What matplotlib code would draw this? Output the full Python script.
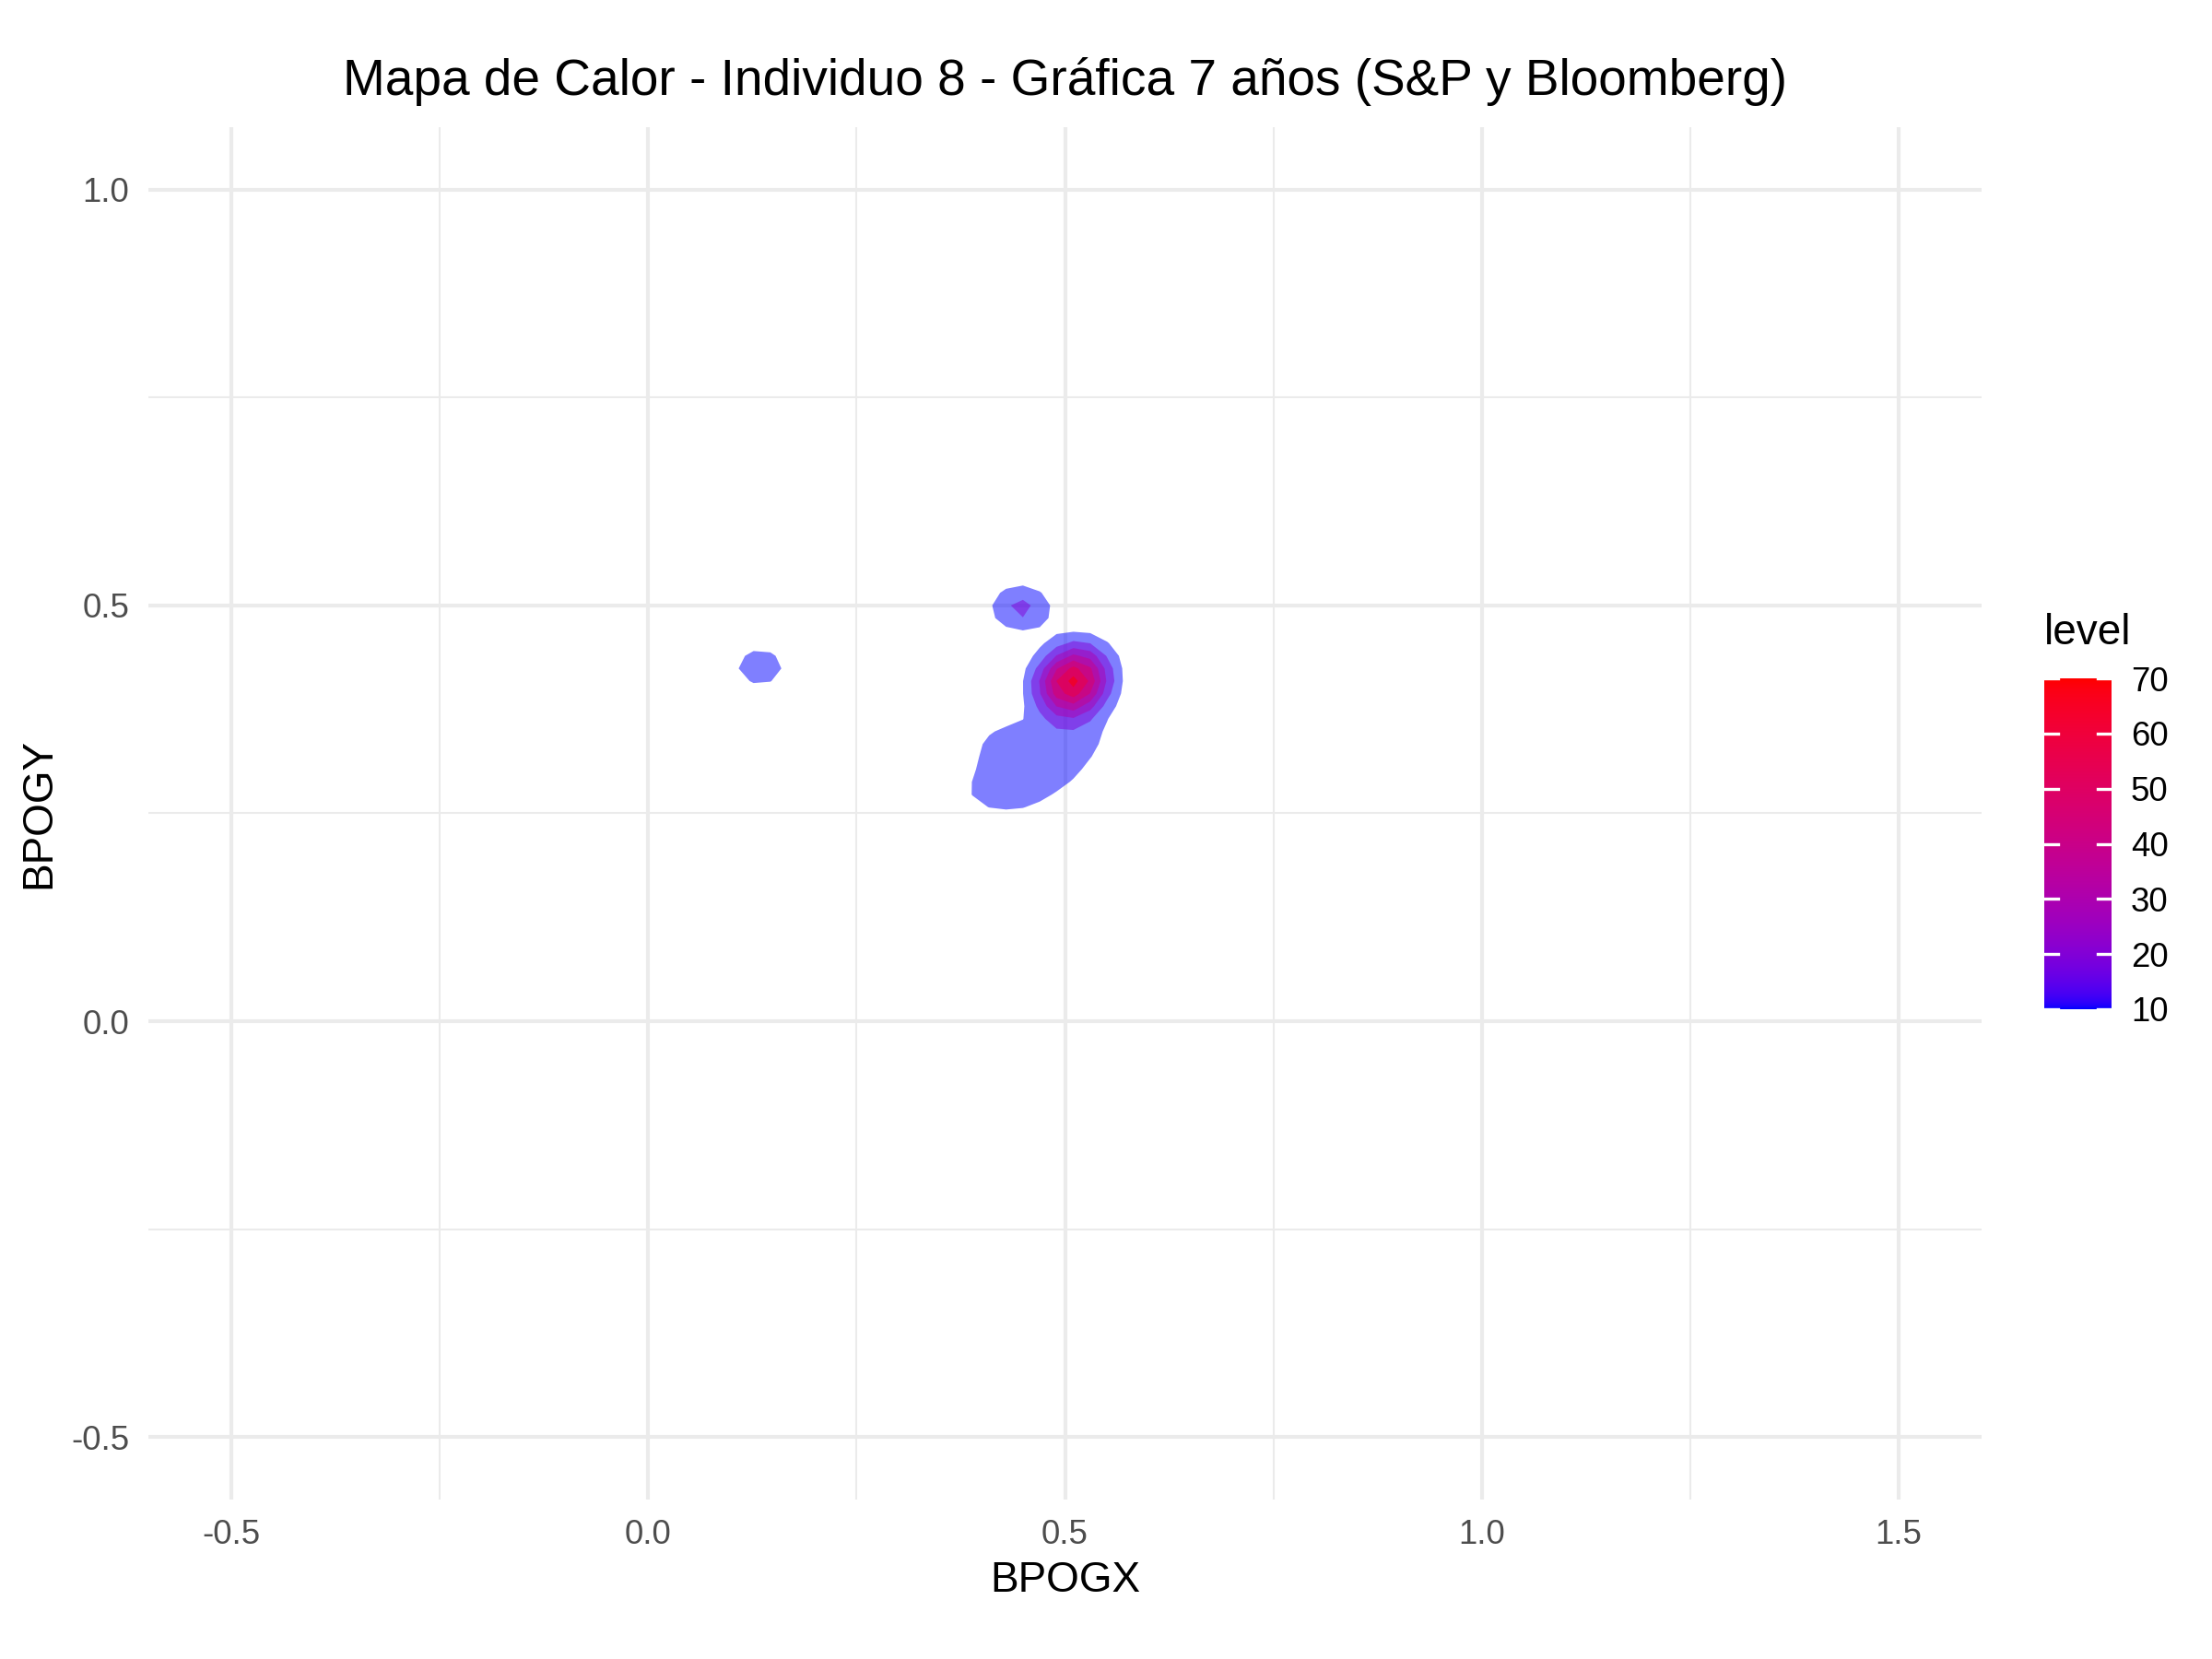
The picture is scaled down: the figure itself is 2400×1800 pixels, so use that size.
import numpy as np
import matplotlib.pyplot as plt

plt.rcParams['font.family'] = ['Liberation Sans', 'DejaVu Sans']
plt.rcParams['axes.unicode_minus'] = False

# observaciones (BPOGX, BPOGY) y cuantas veces se repite cada una
bpogx = [0.509, 0.488, 0.530, 0.509, 0.509, 0.488, 0.530, 0.530,
         0.447, 0.134,
         0.390, 0.415, 0.440, 0.462,
         0.405, 0.430, 0.455, 0.480, 0.500,
         0.412, 0.437, 0.462, 0.487, 0.512,
         0.416, 0.441, 0.470, 0.495, 0.520, 0.540,
         0.05, 0.85, 0.30, 0.70, -0.20, 1.10, 0.25, 0.60,
         0.95, -0.30, 1.30, 0.20, 0.75, 0.35, 1.20, -0.10]
bpogy = [0.409, 0.409, 0.409, 0.378, 0.440, 0.378, 0.440, 0.378,
         0.497, 0.426,
         0.268, 0.268, 0.268, 0.268,
         0.292, 0.292, 0.292, 0.292, 0.292,
         0.316, 0.316, 0.316, 0.316, 0.316,
         0.341, 0.341, 0.338, 0.338, 0.338, 0.338,
         0.05, 0.60, 0.70, 0.15, 0.30, 0.40, -0.10, 0.75,
         -0.20, -0.30, 0.90, 0.55, 0.40, 0.10, 0.05, 0.80]
counts = [36, 15, 15, 15, 15, 10, 10, 4,
          23, 16,
          4, 4, 4, 4,
          4, 3, 3, 3, 4,
          4, 3, 3, 3, 4,
          5, 5, 3, 3, 3, 4,
          4, 4, 4, 4, 4, 4, 4, 4,
          4, 4, 4, 4, 4, 4, 4, 4]

levels = [10, 20, 30, 40, 50, 60, 70]
bw_x = 0.026
bw_y = 0.020

x_lim = (-0.5, 1.5)
y_lim = (-0.5, 1.0)

M = np.array([[0.4124, 0.3576, 0.1805],
              [0.2126, 0.7152, 0.0722],
              [0.0193, 0.1192, 0.9505]])
WHITE = np.array([0.95047, 1.0, 1.08883])


def to_lab(rgb):
    c = np.asarray(rgb, float)
    lin = np.where(c <= 0.04045, c / 12.92, ((c + 0.055) / 1.055) ** 2.4)
    xyz = M @ lin / WHITE
    f = np.where(xyz > (6 / 29) ** 3, np.cbrt(xyz), xyz / (3 * (6 / 29) ** 2) + 4 / 29)
    return np.array([116 * f[1] - 16, 500 * (f[0] - f[1]), 200 * (f[1] - f[2])])


def from_lab(lab):
    fy = (lab[0] + 16) / 116
    f = np.array([fy + lab[1] / 500, fy, fy - lab[2] / 200])
    xyz = np.where(f > 6 / 29, f ** 3, 3 * (6 / 29) ** 2 * (f - 4 / 29)) * WHITE
    lin = np.clip(np.linalg.solve(M, xyz), 0, 1)
    c = np.where(lin <= 0.0031308, 12.92 * lin, 1.055 * lin ** (1 / 2.4) - 0.055)
    return np.clip(c, 0, 1)


lab_low = to_lab([0, 0, 1])
lab_high = to_lab([1, 0, 0])


def level_colour(v):
    t = (v - levels[0]) / (levels[-1] - levels[0])
    return from_lab(lab_low + t * (lab_high - lab_low))


# densidad 2d en una rejilla de 100 x 100 (como kde2d)
gx = np.linspace(x_lim[0], x_lim[1], 100)
gy = np.linspace(y_lim[0], y_lim[1], 100)
X, Y = np.meshgrid(gx, gy)
w = np.array(counts, float)
Z = np.zeros_like(X)
for xi, yi, wi in zip(bpogx, bpogy, w):
    Z += wi * np.exp(-(X - xi) ** 2 / (2 * bw_x ** 2) - (Y - yi) ** 2 / (2 * bw_y ** 2))
Z /= w.sum() * 2 * np.pi * bw_x * bw_y

fig = plt.figure(figsize=(8, 6), dpi=300)
ax = fig.add_axes([161 / 2400, 1 - 1627 / 1800, (2150 - 161) / 2400, (1627 - 138) / 1800])

for v in levels:
    if Z.max() > v:
        ax.contourf(X, Y, Z, levels=[v, Z.max() + 1], colors=[level_colour(v)],
                    alpha=0.5, antialiased=True, zorder=2)

xr = x_lim[1] - x_lim[0]
yr = y_lim[1] - y_lim[0]
ax.set_xlim(x_lim[0] - 0.05 * xr, x_lim[1] + 0.05 * xr)
ax.set_ylim(y_lim[0] - 0.05 * yr, y_lim[1] + 0.05 * yr)
ax.set_xticks([-0.5, 0.0, 0.5, 1.0, 1.5])
ax.set_yticks([-0.5, 0.0, 0.5, 1.0])
ax.set_xticks([-0.25, 0.25, 0.75, 1.25], minor=True)
ax.set_yticks([-0.25, 0.25, 0.75], minor=True)
ax.grid(True, which='major', color='#EBEBEB', linewidth=1.0, zorder=0)
ax.grid(True, which='minor', color='#EBEBEB', linewidth=0.5, zorder=0)
ax.set_axisbelow(True)
for s in ax.spines.values():
    s.set_visible(False)
ax.tick_params(which='both', length=0, labelsize=8.8, labelcolor='#4D4D4D', pad=5)

ax.set_xlabel('BPOGX', fontsize=11, labelpad=2.5)
ax.set_ylabel('BPOGY', fontsize=11, labelpad=3)
ax.set_title('Mapa de Calor - Individuo 8 - Gráfica 7 años (S&P y Bloomberg)',
             fontsize=13.2, pad=8.5)

# barra de color de la leyenda
cax = fig.add_axes([2218 / 2400, 1 - 1095 / 1800, 73 / 2400, 359 / 1800])
vals = np.linspace(levels[0], levels[-1], 256)
grad = np.array([level_colour(v) for v in vals])[:, None, :]
cax.imshow(grad, origin='lower', aspect='auto',
           extent=[0, 1, levels[0], levels[-1]])
for v in levels:
    cax.plot([0, 0.2], [v, v], color='white', linewidth=0.8)
    cax.plot([0.8, 1], [v, v], color='white', linewidth=0.8)
cax.set_xlim(0, 1)
cax.set_ylim(levels[0], levels[-1])
cax.set_xticks([])
cax.yaxis.tick_right()
cax.set_yticks(levels)
cax.tick_params(length=0, labelsize=8.8, pad=5)
for s in cax.spines.values():
    s.set_visible(False)
fig.text(2218 / 2400, 1 - 687 / 1800, 'level', fontsize=11, va='center', ha='left')

fig.savefig('out.png', dpi=300, facecolor='white')
